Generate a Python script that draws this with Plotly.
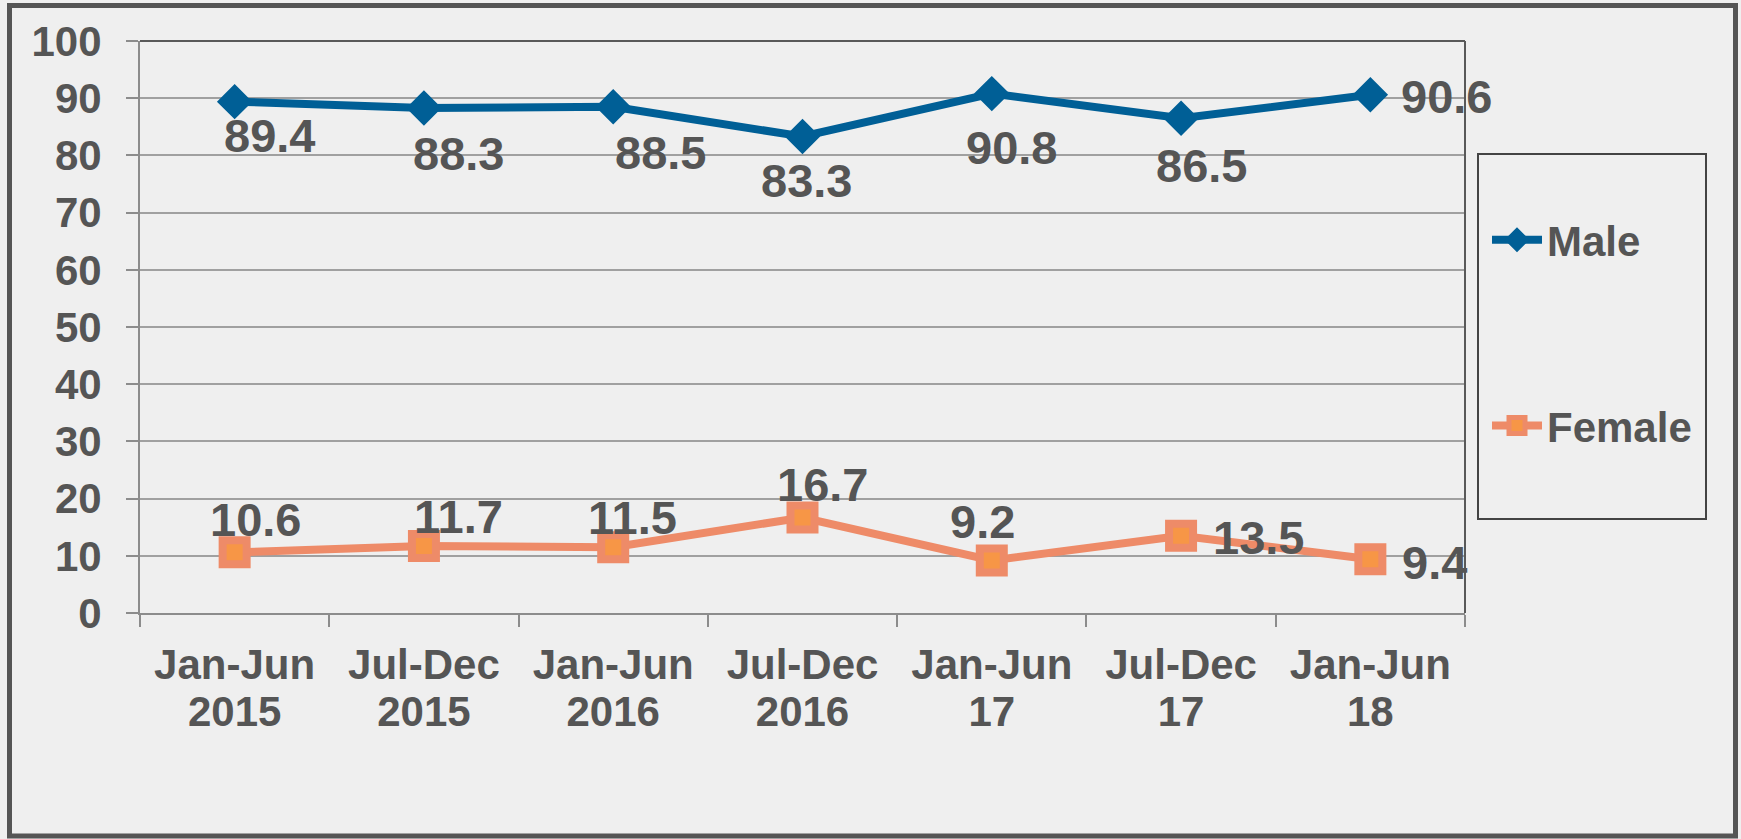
import plotly.graph_objects as go

# ---- data ----
periods = ["Jan-Jun", "Jul-Dec", "Jan-Jun", "Jul-Dec", "Jan-Jun", "Jul-Dec", "Jan-Jun"]
years = ["2015", "2015", "2016", "2016", "17", "17", "18"]
categories = [f"{p} {y}" for p, y in zip(periods, years)]
male = [89.4, 88.3, 88.5, 83.3, 90.8, 86.5, 90.6]
female = [10.6, 11.7, 11.5, 16.7, 9.2, 13.5, 9.4]
y_ticks = list(range(0, 101, 10))

# label offsets (pixels) – styling only
male_dx = [35, 35, 47, 4, 20, 20, 29]
male_dy = [-34, -46, -46, -44, -54, -47, -2]
male_anchor = ["center"] * 6 + ["left"]
female_dx = [21, 35, 19, 20, -9, 30, 30]
female_dy = [33, 30, 30, 33, 39, -2, -3]
female_anchor = ["center"] * 5 + ["left", "left"]

W, H = 1741, 839
L, R, T, B = 140, 1465, 41, 613
pw, ph = R - L, B - T

def px(x):
    return (x - L) / pw

def py(y):
    return (B - y) / ph

TXT = "#555555"
FONT = "Liberation Sans, Arial, sans-serif"
BLUE = "#005f96"
SALMON = "#ee8b68"
ORANGE = "#f79646"
TICKFONT = dict(family=FONT, size=42, color=TXT, weight="bold")

fig = go.Figure()
fig.add_trace(go.Scatter(
    x=categories, y=male, name="Male", mode="lines+markers", legendgroup="m",
    line=dict(color=BLUE, width=8),
    marker=dict(symbol="diamond", size=24, color=BLUE, line=dict(color=BLUE, width=3)),
))
fig.add_trace(go.Scatter(
    x=categories, y=female, name="Female", mode="lines+markers", legendgroup="f",
    line=dict(color=SALMON, width=8),
    marker=dict(symbol="square", size=24, color=ORANGE, line=dict(color=SALMON, width=8)),
))
# carrier for the second line of category labels (years)
fig.add_trace(go.Scatter(
    x=categories, y=male, xaxis="x2", mode="markers", showlegend=False,
    marker=dict(opacity=0), hoverinfo="skip",
))

annotations = []
for vals, dxs, dys, anc in [(male, male_dx, male_dy, male_anchor),
                            (female, female_dx, female_dy, female_anchor)]:
    for c, v, dx, dy, a in zip(categories, vals, dxs, dys, anc):
        annotations.append(dict(
            x=c, y=v, xref="x", yref="y", text=f"{v}", showarrow=False,
            xanchor=a, yanchor="middle", xshift=dx, yshift=dy,
            font=dict(family=FONT, size=47, color=TXT, weight="bold"),
        ))

shapes = [
    # outer frame
    dict(type="rect", xref="paper", yref="paper",
         x0=px(9.5), x1=px(1735.5), y0=py(836), y1=py(5.5),
         line=dict(color="#555555", width=5), layer="below"),
    # plot top / right border
    dict(type="line", xref="paper", yref="paper", x0=0, x1=1, y0=1, y1=1,
         line=dict(color="#595959", width=2)),
    dict(type="line", xref="paper", yref="paper", x0=1, x1=1, y0=0, y1=1,
         line=dict(color="#595959", width=2)),
    # legend box
    dict(type="rect", xref="paper", yref="paper",
         x0=px(1478), x1=px(1706), y0=py(519), y1=py(154),
         line=dict(color="#444444", width=2)),
]

xr = [-0.5, len(categories) - 0.5]
fig.update_layout(
    width=W, height=H,
    margin=dict(l=L, r=W - R, t=T, b=H - B, pad=0),
    paper_bgcolor="#efefef", plot_bgcolor="#efefef",
    font=dict(family=FONT, color=TXT, size=42, weight="bold"),
    showlegend=True,
    legend=dict(
        x=px(1487), y=py(206), xanchor="left", yanchor="top",
        bgcolor="rgba(0,0,0,0)", borderwidth=0,
        font=dict(family=FONT, size=42, color=TXT, weight="bold"),
        tracegroupgap=128, itemwidth=50,
    ),
    annotations=annotations,
    shapes=shapes,
    xaxis=dict(
        type="category", categoryarray=categories, categoryorder="array",
        showgrid=False, zeroline=False,
        showline=True, linecolor="#8c8c8c", linewidth=2,
        ticks="outside", tickson="boundaries", ticklen=12, tickcolor="#8c8c8c", tickwidth=2,
        tickmode="array", tickvals=categories, ticktext=periods,
        tickfont=TICKFONT, ticklabelstandoff=14,
        range=xr,
    ),
    xaxis2=dict(
        type="category", categoryarray=categories, categoryorder="array",
        overlaying="x", anchor="y", side="bottom",
        showgrid=False, zeroline=False, showline=False,
        ticks="outside", ticklen=12, tickcolor="rgba(0,0,0,0)",
        tickmode="array", tickvals=categories, ticktext=years,
        tickfont=TICKFONT, ticklabelstandoff=50,
        range=xr,
    ),
    yaxis=dict(
        range=[0, 100], tickvals=y_ticks, ticktext=[str(t) for t in y_ticks],
        showgrid=True, gridcolor="#a0a0a0", gridwidth=2,
        zeroline=False, showline=True, linecolor="#8c8c8c", linewidth=2,
        ticks="outside", ticklen=12, tickcolor="#8c8c8c", tickwidth=2,
        tickfont=TICKFONT, ticklabelstandoff=16,
    ),
)

fig.write_html(
    "out.html",
    config={"displayModeBar": False},
    post_script="document.body.style.margin='0px';document.body.style.overflow='hidden';",
)
